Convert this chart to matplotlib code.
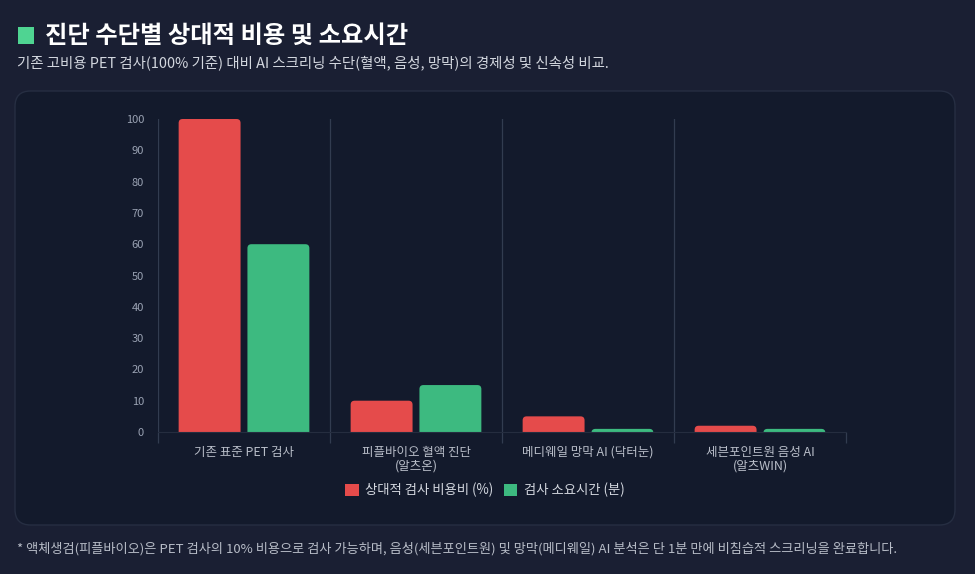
import matplotlib.pyplot as plt
from matplotlib.patches import FancyBboxPatch, Patch

plt.rcParams['font.family'] = ['Noto Sans CJK KR', 'DejaVu Sans']

categories = ['기존 표준 PET 검사', '피플바이오 혈액 진단\n(알츠온)',
              '메디웨일 망막 AI (닥터눈)', '세븐포인트원 음성 AI\n(알츠WIN)']
cost = [100, 10, 5, 2]
time_min = [60, 15, 1, 1]
series_names = ['상대적 검사 비용비 (%)', '검사 소요시간 (분)']
yticks = list(range(0, 101, 10))

title = '진단 수단별 상대적 비용 및 소요시간'
subtitle = '기존 고비용 PET 검사(100% 기준) 대비 AI 스크리닝 수단(혈액, 음성, 망막)의 경제성 및 신속성 비교.'
footnote = ('* 액체생검(피플바이오)은 PET 검사의 10% 비용으로 검사 가능하며, 음성(세븐포인트원) 및 '
            '망막(메디웨일) AI 분석은 단 1분 만에 비침습적 스크리닝을 완료합니다.')

BG = '#1a1f33'
PANEL = '#131a2c'
RED = '#e54b4b'
GREEN = '#3dba80'
GRID = '#323c50'

W, H = 975, 574
fig = plt.figure(figsize=(W / 100, H / 100), dpi=100, facecolor=BG)

# rounded panel behind the chart
panel = FancyBboxPatch((15 / W, 1 - 525 / H), 940 / W, 434 / H,
                       boxstyle='round,pad=0,rounding_size=0.016',
                       mutation_aspect=W / H,
                       transform=fig.transFigure, facecolor=PANEL,
                       edgecolor='#262e42', linewidth=1, zorder=-5)
fig.patches.append(panel)

# title block
fig.patches.append(plt.Rectangle((18 / W, 1 - 44 / H), 16 / W, 17 / H,
                                 transform=fig.transFigure,
                                 facecolor='#4fd492', edgecolor='none',
                                 zorder=-4))
fig.text(45 / W, 1 - 35.5 / H, title, color='white', fontsize=17.5,
         fontweight='bold', va='center', ha='left')
fig.text(17 / W, 1 - 63 / H, subtitle, color='#d3d7df', fontsize=10.4,
         va='center', ha='left')
fig.text(17 / W, 1 - 549 / H, footnote, color='#b7bcc7', fontsize=9.5,
         va='center', ha='left')

ax = fig.add_axes([158 / W, 1 - 432 / H, 688 / W, 313 / H])
ax.set_facecolor('none')
ax.set_xlim(-0.5, len(categories) - 0.5)
ax.set_ylim(0, 100)

x = list(range(len(categories)))
bw = 0.36
b1 = ax.bar([i - 0.2 for i in x], cost, width=bw, color=RED)
b2 = ax.bar([i + 0.2 for i in x], time_min, width=bw, color=GREEN)

# swap plain bars for ones with rounded tops
fig.canvas.draw()
px_x = ax.transData.transform((1, 0))[0] - ax.transData.transform((0, 0))[0]
px_y = ax.transData.transform((0, 1))[1] - ax.transData.transform((0, 0))[1]
aspect = px_x / px_y
r = 4 / px_x
for bars in (b1, b2):
    for b in bars:
        b.set_visible(False)
        bx, bh = b.get_x(), b.get_height()
        p = FancyBboxPatch((bx, -4), b.get_width(), bh + 4,
                           boxstyle=f'round,pad=0,rounding_size={r}',
                           mutation_aspect=aspect,
                           facecolor=b.get_facecolor(), edgecolor='none',
                           zorder=2)
        ax.add_patch(p)

for s in ['top', 'right', 'left']:
    ax.spines[s].set_visible(False)
ax.spines['bottom'].set_color('#252d3f')
ax.spines['bottom'].set_zorder(3)

for xb in [i + 0.5 for i in x[:-1]]:
    ax.axvline(xb, color=GRID, linewidth=0.9, zorder=1)
ax.axvline(-0.5, color=GRID, linewidth=0.9, zorder=1)

ax.set_xticks([i - 0.5 for i in x] + [len(x) - 0.5], minor=True)
ax.tick_params(axis='x', which='minor', length=8, color=GRID, width=0.9)
ax.set_xticks(x)
ax.set_xticklabels(categories, color='#b9bec9', fontsize=9,
                   linespacing=1.1)
ax.tick_params(axis='x', which='major', length=0, pad=10)

ax.set_yticks(yticks)
ax.set_yticklabels([str(v) for v in yticks], color='#9aa2b3', fontsize=8)
ax.tick_params(axis='y', length=0, pad=10)

handles = [Patch(facecolor=RED, label=series_names[0]),
           Patch(facecolor=GREEN, label=series_names[1])]
fig.legend(handles=handles, loc='center', bbox_to_anchor=(485 / W, 1 - 490 / H),
           ncol=2, frameon=False, fontsize=9.6, labelcolor='#d3d7df',
           handlelength=1.0, handleheight=1.0, handletextpad=0.5,
           columnspacing=0.8)

fig.savefig('out.png', dpi=100, facecolor=BG)
